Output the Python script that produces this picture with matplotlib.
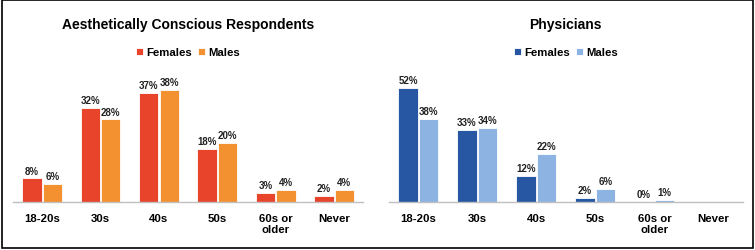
import numpy as np
import matplotlib.pyplot as plt
from matplotlib.patches import Rectangle

plt.rcParams['font.family'] = ['Liberation Sans', 'DejaVu Sans']

categories = ['18-20s', '30s', '40s', '50s', '60s or\nolder', 'Never']
aest_females = [8, 32, 37, 18, 3, 2]
aest_males = [6, 28, 38, 20, 4, 4]
phys_females = [52, 33, 12, 2, 0, np.nan]
phys_males = [38, 34, 22, 6, 1, np.nan]

fig = plt.figure(figsize=(7.55, 2.51), dpi=100)

def panel(rect, title, fem, mal, colors, ymax):
    ax = fig.add_axes(rect)
    x = np.arange(len(categories))
    w = 0.33
    b1 = ax.bar(x - 0.175, fem, w, color=colors[0], edgecolor='white', linewidth=0.6, label='Females')
    b2 = ax.bar(x + 0.175, mal, w, color=colors[1], edgecolor='white', linewidth=0.6, label='Males')
    for bars, vals in ((b1, fem), (b2, mal)):
        for r, v in zip(bars, vals):
            if np.isnan(v):
                continue
            ax.text(r.get_x() + r.get_width() / 2, v + ymax * 0.02, f'{int(v)}%',
                    ha='center', va='bottom', fontsize=7, fontweight='bold', color='#222222')
    ax.set_xlim(-0.5, len(categories) - 0.5)
    ax.set_ylim(0, ymax)
    ax.set_xticks(x)
    ax.set_xticklabels(categories, fontsize=8.2, fontweight='bold', linespacing=1.15)
    ax.tick_params(axis='x', length=0, pad=8)
    ax.set_yticks([])
    for s in ('left', 'right', 'top'):
        ax.spines[s].set_visible(False)
    ax.spines['bottom'].set_color('#bfbfbf')
    ax.spines['bottom'].set_linewidth(1)
    cx = rect[0] + rect[2] / 2
    fig.text(cx, 0.902, title, ha='center', va='center', fontsize=10, fontweight='bold')
    fig.legend(handles=[b1, b2], loc='center', bbox_to_anchor=(cx, 0.787), ncol=2,
               frameon=False, handlelength=0.6, handleheight=0.6, handletextpad=0.3,
               columnspacing=0.5, prop={'size': 8.2, 'weight': 'bold'})
    return ax

panel([0.0172, 0.191, 0.464, 0.57], 'Aesthetically Conscious Respondents',
      aest_females, aest_males, ['#e8442c', '#f39130'], 143 / 2.95)
panel([0.515, 0.191, 0.469, 0.57], 'Physicians',
      phys_females, phys_males, ['#2756a3', '#8db3e2'], 143 / 2.19)

fig.patches.append(Rectangle((0.002, 0.006), 0.996, 0.99, transform=fig.transFigure,
                             fill=False, edgecolor='black', linewidth=1.2))

fig.savefig('out.png', dpi=100)
